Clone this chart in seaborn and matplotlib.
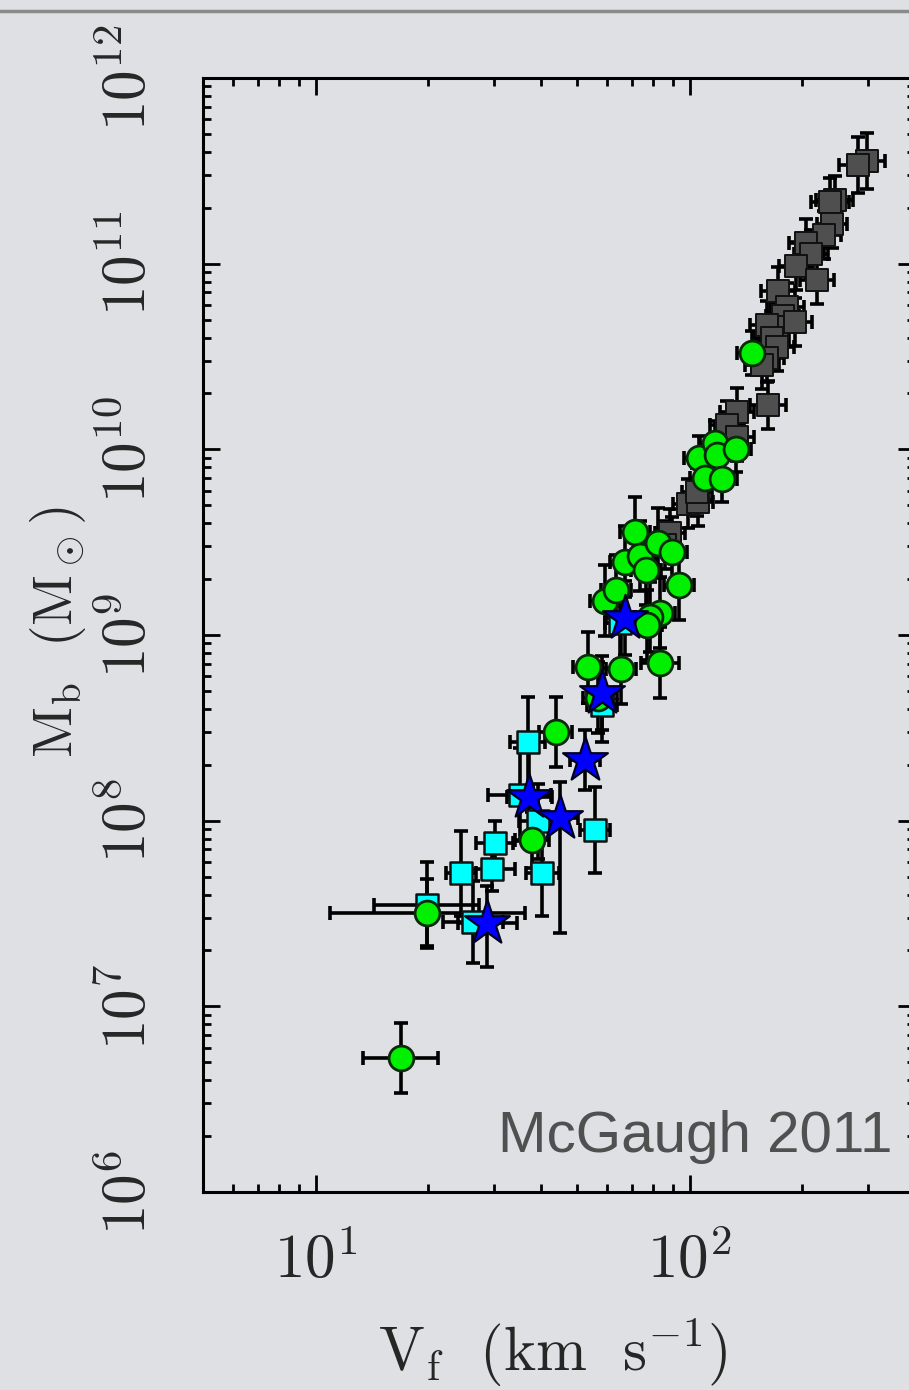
import numpy as np
import pandas as pd
import matplotlib
matplotlib.use("Agg")
import matplotlib.pyplot as plt
import matplotlib.ticker as mticker
from matplotlib.lines import Line2D
import seaborn as sns

# ---------------- data ----------------
# dark grey squares (star-dominated galaxies)
gray_v = [297, 281, 244, 237, 240, 228, 204, 211, 192, 219, 172, 182, 177, 171, 161,
          166, 171, 161, 156, 162, 134, 126, 134, 98.9, 105, 88.5, 104.5, 85.7, 191]
gray_m = [3.57e11, 3.4e11, 2.2e11, 2.15e11, 1.64e11, 1.43e11, 1.29e11, 1.13e11, 9.7e10,
          8.2e10, 7.1e10, 5.85e10, 5.2e10, 4.56e10, 4.67e10, 4.0e10, 3.56e10, 3.1e10,
          2.85e10, 1.73e10, 1.59e10, 1.35e10, 1.17e10, 5.1e9, 5.2e9, 3.55e9, 5.9e9, 3.05e9, 4.85e10]
gray_xerr_dex = [0.05, 0.05, 0.05, 0.05, 0.04, 0.045, 0.045, 0.045, 0.045, 0.045, 0.045,
                 0.045, 0.045, 0.045, 0.045, 0.045, 0.045, 0.045, 0.045, 0.048, 0.045,
                 0.045, 0.045, 0.04, 0.04, 0.04, 0.04, 0.04, 0.045]
gray_yerr_dex = [0.15, 0.15, 0.13, 0.13, 0.13, 0.13, 0.13, 0.13, 0.13, 0.13, 0.13, 0.13,
                 0.13, 0.13, 0.13, 0.13, 0.13, 0.13, 0.13, 0.13, 0.13, 0.13, 0.13, 0.13,
                 0.13, 0.13, 0.13, 0.13, 0.13]

# green circles (gas-rich galaxies)
green_v = [16.9, 19.9, 37.9, 43.8, 53.3, 65.4, 56.7, 83.2, 59.3, 63.4, 67.0, 71.3, 73.5,
           76.2, 82.0, 89.5, 93.5, 83.2, 78.2, 76.7, 106, 117, 118, 133, 110, 122, 147]
green_m = [5.28e6, 3.19e7, 7.9e7, 3.0e8, 6.7e8, 6.6e8, 4.6e8, 7.1e8, 1.53e9, 1.75e9, 2.48e9,
           3.59e9, 2.67e9, 2.24e9, 3.13e9, 2.8e9, 1.86e9, 1.32e9, 1.25e9, 1.13e9, 9.0e9,
           1.08e10, 9.3e9, 1.0e10, 7.0e9, 6.9e9, 3.3e10]
green_xerr_dex = [0.10, 0.26, 0.045, 0.045, 0.04, 0.04, 0.04, 0.05, 0.04, 0.04, 0.04, 0.04,
                  0.04, 0.04, 0.04, 0.04, 0.04, 0.04, 0.04, 0.04, 0.04, 0.04, 0.04, 0.04,
                  0.04, 0.04, 0.04]
green_yerr_dex = [0.19, 0.18, 0.15, 0.19, 0.19, 0.19, 0.19, 0.19, 0.19, 0.19, 0.19, 0.19,
                  0.19, 0.19, 0.19, 0.19, 0.19, 0.19, 0.19, 0.19, 0.12, 0.12, 0.12, 0.12,
                  0.12, 0.12, 0.12]

# cyan squares
cyan_v = [19.8, 26.3, 24.5, 29.7, 30.1, 40.4, 39.3, 35.1, 55.7, 36.9, 58.2, 65.0]
cyan_m = [3.52e7, 2.85e7, 5.2e7, 5.5e7, 7.6e7, 5.2e7, 9.9e7, 1.38e8, 8.9e7, 2.66e8, 4.2e8, 1.16e9]
cyan_xerr_dex = [0.14, 0.08, 0.04, 0.06, 0.05, 0.045, 0.05, 0.085, 0.04, 0.047, 0.04, 0.04]
cyan_yerr_dex = [0.23, 0.22, 0.23, 0.12, 0.12, 0.23, 0.20, 0.25, 0.23, 0.24, 0.20, 0.20]

# blue stars
star_v = [28.8, 37.2, 44.9, 52.4, 58.2, 67.0]
star_m = [2.82e7, 1.34e8, 1.04e8, 2.12e8, 4.88e8, 1.24e9]
star_xerr_dex = [0.08, 0.06, 0.05, 0.04, 0.04, 0.05]
star_ylo_dex = [0.24, 0.25, 0.62, 0.16, 0.20, 0.20]
star_yhi_dex = [0.20, 0.25, 0.19, 0.16, 0.20, 0.20]

xticks_major = [10, 100]
yticks_major = [1e6, 1e7, 1e8, 1e9, 1e10, 1e11, 1e12]
credit = "McGaugh 2011"

# ---------------- style ----------------
sns.set_theme(style="ticks")
plt.rcParams["mathtext.fontset"] = "cm"
plt.rcParams["font.family"] = ["DejaVu Serif", "DejaVu Sans"]

BG = "#dfe0e3"
W, H = 909, 1390
fig = plt.figure(figsize=(W / 100, H / 100), dpi=100, facecolor=BG)
ax = fig.add_axes([203 / W, 1 - 1192 / H, (915 - 203) / W, (1192 - 78) / H])
ax.set_facecolor(BG)


def log_err(vals, lo_dex, hi_dex):
    vals = np.asarray(vals, float)
    lo = vals - vals * 10 ** (-np.asarray(lo_dex))
    hi = vals * 10 ** np.asarray(hi_dex) - vals
    return np.vstack([lo, hi])


eb_kw = dict(fmt="none", ecolor="black", elinewidth=2.6, capsize=5, capthick=2.6, zorder=2)
ax.errorbar(gray_v, gray_m, xerr=log_err(gray_v, gray_xerr_dex, gray_xerr_dex),
            yerr=log_err(gray_m, gray_yerr_dex, gray_yerr_dex), **eb_kw)
ax.errorbar(cyan_v, cyan_m, xerr=log_err(cyan_v, cyan_xerr_dex, cyan_xerr_dex),
            yerr=log_err(cyan_m, cyan_yerr_dex, cyan_yerr_dex), **eb_kw)
ax.errorbar(green_v, green_m, xerr=log_err(green_v, green_xerr_dex, green_xerr_dex),
            yerr=log_err(green_m, green_yerr_dex, green_yerr_dex), **eb_kw)
ax.errorbar(star_v, star_m, xerr=log_err(star_v, star_xerr_dex, star_xerr_dex),
            yerr=log_err(star_m, star_ylo_dex, star_yhi_dex), **eb_kw)

df_gray = pd.DataFrame({"V": gray_v, "M": gray_m})
df_cyan = pd.DataFrame({"V": cyan_v, "M": cyan_m})
df_green = pd.DataFrame({"V": green_v, "M": green_m})
df_star = pd.DataFrame({"V": star_v, "M": star_m})

sns.scatterplot(data=df_gray, x="V", y="M", ax=ax, marker="s", s=250, color="#4f4f4f",
                edgecolor="#111111", linewidth=1.4, zorder=3)
sns.scatterplot(data=df_cyan, x="V", y="M", ax=ax, marker="s", s=260, color="#00ffff",
                edgecolor="#111111", linewidth=1.8, zorder=4)
sns.scatterplot(data=df_green, x="V", y="M", ax=ax, marker="o", s=320, color="#00f000",
                edgecolor="#0b2a0b", linewidth=2.0, zorder=5)
sns.scatterplot(data=df_star, x="V", y="M", ax=ax, marker="*", s=1150, color="#0000ff",
                edgecolor="#000022", linewidth=1.6, zorder=6)

ax.set_xscale("log")
ax.set_yscale("log")
ax.set_xlim(5, 400)
ax.set_ylim(1e6, 1e12)

ax.xaxis.set_major_locator(mticker.FixedLocator(xticks_major))
ax.yaxis.set_major_locator(mticker.FixedLocator(yticks_major))
ax.xaxis.set_minor_locator(mticker.LogLocator(base=10, subs=np.arange(2, 10), numticks=100))
ax.yaxis.set_minor_locator(mticker.LogLocator(base=10, subs=np.arange(2, 10), numticks=100))
fmt = mticker.FuncFormatter(lambda v, p: r"$10^{%d}$" % int(round(np.log10(v))))
ax.xaxis.set_major_formatter(fmt)
ax.yaxis.set_major_formatter(fmt)
ax.xaxis.set_minor_formatter(mticker.NullFormatter())
ax.yaxis.set_minor_formatter(mticker.NullFormatter())

ax.tick_params(which="both", direction="in", top=True, right=True, color="black")
ax.tick_params(which="major", length=12, width=2.0)
ax.tick_params(which="minor", length=6, width=2.0)
ax.tick_params(axis="x", which="major", labelsize=44, pad=28)
ax.tick_params(axis="y", which="major", labelsize=44, pad=32)
for lab in ax.get_yticklabels():
    lab.set_rotation(90)
    lab.set_va("center")
for sp in ax.spines.values():
    sp.set_linewidth(2.2)
    sp.set_color("black")

ax.set_xlabel(r"$\mathrm{V_f\ \ (km\ \ s^{-1})}$", fontsize=44)
ax.set_ylabel(r"$\mathrm{M_b\ \ (M_\odot)}$", fontsize=40)
ax.xaxis.set_label_coords((553 - 203) / (915 - 203), -(1316 - 1192) / (1192 - 78))
ax.yaxis.set_label_coords(-(203 - 88) / (915 - 203), (1192 - 632) / (1192 - 78))

fig.text(893 / W, 1 - 1152 / H, credit, ha="right", va="baseline", fontsize=42,
         color="#505050", family=["Liberation Sans", "DejaVu Sans"])

fig.add_artist(Line2D([0, 1], [1 - 11 / H, 1 - 11 / H], transform=fig.transFigure,
                      color="#8a8a8a", linewidth=2.5))

fig.savefig("out.png", dpi=100, facecolor=BG)
